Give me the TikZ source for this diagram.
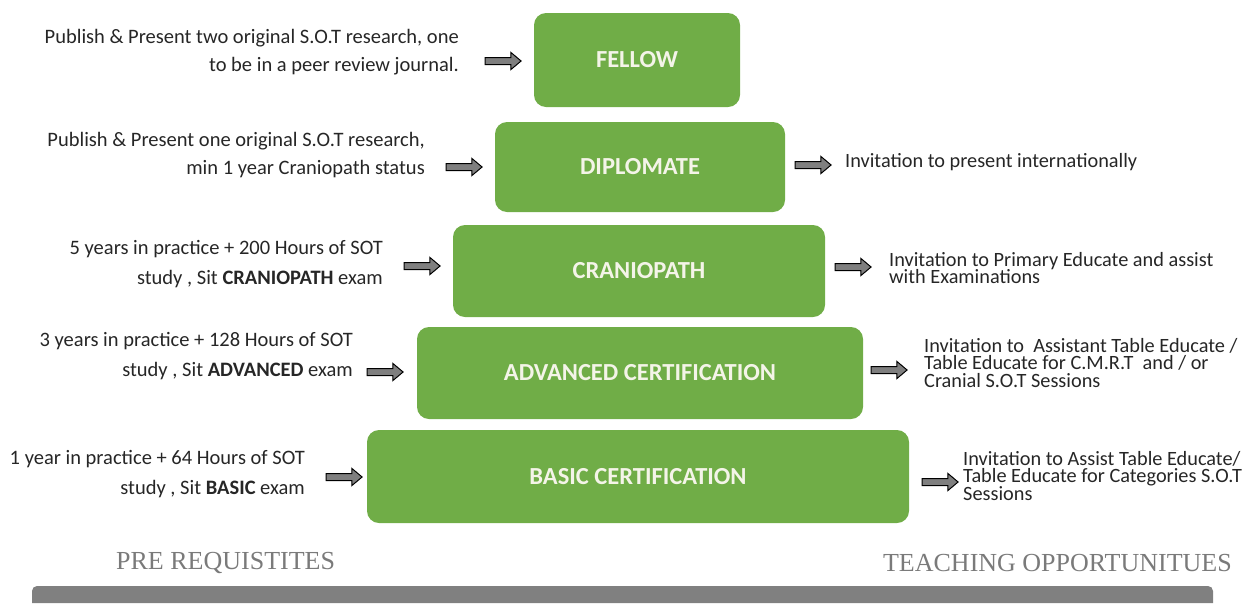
\documentclass[tikz,border=0pt]{standalone}
\usepackage{fontspec}
\setmainfont{Carlito}
\newfontfamily\slab{Liberation Serif}
\usetikzlibrary{shapes.arrows}
\definecolor{boxgreen}{HTML}{70AD47}
\definecolor{boxtext}{HTML}{F4F4E8}
\definecolor{arrgray}{HTML}{7F7F7F}
\definecolor{txt}{HTML}{262626}
\definecolor{ttl}{HTML}{7A7A7A}
\definecolor{bar}{HTML}{808080}
\begin{document}
\begin{tikzpicture}[x=1pt,y=-1pt,
  level/.style={fill=boxgreen,rounded corners=12pt,inner sep=0pt,text=boxtext,
    font=\fontsize{24.5}{26}\selectfont\bfseries},
  lefttext/.style={anchor=east,align=right,inner sep=0pt,text=txt,
    font=\fontsize{20.5}{28}\selectfont},
  lefttextb/.style={lefttext,font=\fontsize{20.5}{30}\selectfont},
  righttext/.style={anchor=west,align=left,inner sep=0pt,text=txt,
    font=\fontsize{20.3}{17.5}\selectfont},
  arr/.style={single arrow,draw=black,fill=arrgray,line width=1pt,
    minimum height=36pt,minimum width=16pt,inner sep=3pt,
    single arrow head extend=5pt,single arrow tip angle=80},
  title/.style={inner sep=0pt,text=ttl,font=\fontsize{26}{28}\slab}]
\useasboundingbox (0,0) rectangle (1251,603);
% levels
\node[level,minimum width=206pt,minimum height=94pt] (fellow) at (637,60) {\raisebox{-3pt}{FELLOW}};
\node[level,minimum width=290pt,minimum height=90pt] (dipl) at (640,167) {\raisebox{-4pt}{DIPLOMATE}};
\node[level,minimum width=372pt,minimum height=92pt] (cran) at (639,271) {\raisebox{-3pt}{CRANIOPATH}};
\node[level,minimum width=446pt,minimum height=92pt] (adv) at (640,373) {\raisebox{-4pt}{ADVANCED CERTIFICATION}};
\node[level,minimum width=542pt,minimum height=93pt] (basic) at (638,476.5) {\raisebox{-4pt}{BASIC CERTIFICATION}};
% arrows
\node[arr] (afl) at (501,61) {};
\node[arr] (adl) at (462,167) {};
\node[arr] (adr) at (811,165) {};
\node[arr] (acl) at (420,266) {};
\node[arr] (acr) at (851,267) {};
\node[arr] (aal) at (383,372) {};
\node[arr] (aar) at (887,370) {};
\node[arr] (abl) at (342,477) {};
\node[arr] (abr) at (938,482) {};
% left texts
\node[lefttext] (pfl) at (459,52.5) {Publish \& Present two original S.O.T research, one\\to be in a peer review journal.};
\node[lefttext] (pdl) at (425,155) {Publish \& Present one original S.O.T research,\\min 1 year Craniopath status};
\node[lefttextb] (pcr) at (383,264) {5 years in practice + 200 Hours of SOT\\study , Sit \textbf{CRANIOPATH} exam};
\node[lefttextb] (pad) at (353,356) {3 years in practice + 128 Hours of SOT\\study , Sit \textbf{ADVANCED} exam};
\node[lefttextb] (pba) at (305,474) {1 year in practice + 64 Hours of SOT\\study , Sit \textbf{BASIC} exam};
% right texts
\node[righttext] (tdl) at (845,162) {Invitation to present internationally};
\node[righttext] (tcr) at (889,268) {Invitation to Primary Educate and assist\\with Examinations};
\node[righttext] (tad) at (924,363) {Invitation to~ Assistant Table Educate /\\Table Educate for C.M.R.T~ and / or\\Cranial S.O.T Sessions};
\node[righttext] (tba) at (963,476) {Invitation to Assist Table Educate/\\Table Educate for Categories S.O.T\\Sessions};
% titles
\node[title,anchor=west] (pre) at (116,563) {PRE REQUISTITES};
\node[title,anchor=east] (teach) at (1232,563) {TEACHING OPPORTUNITUES};
% bar
\fill[bar] (32,603) {[rounded corners=5pt] -- (32,586) -- (1213,586)} -- (1213,603) -- cycle;
\end{tikzpicture}
\end{document}
